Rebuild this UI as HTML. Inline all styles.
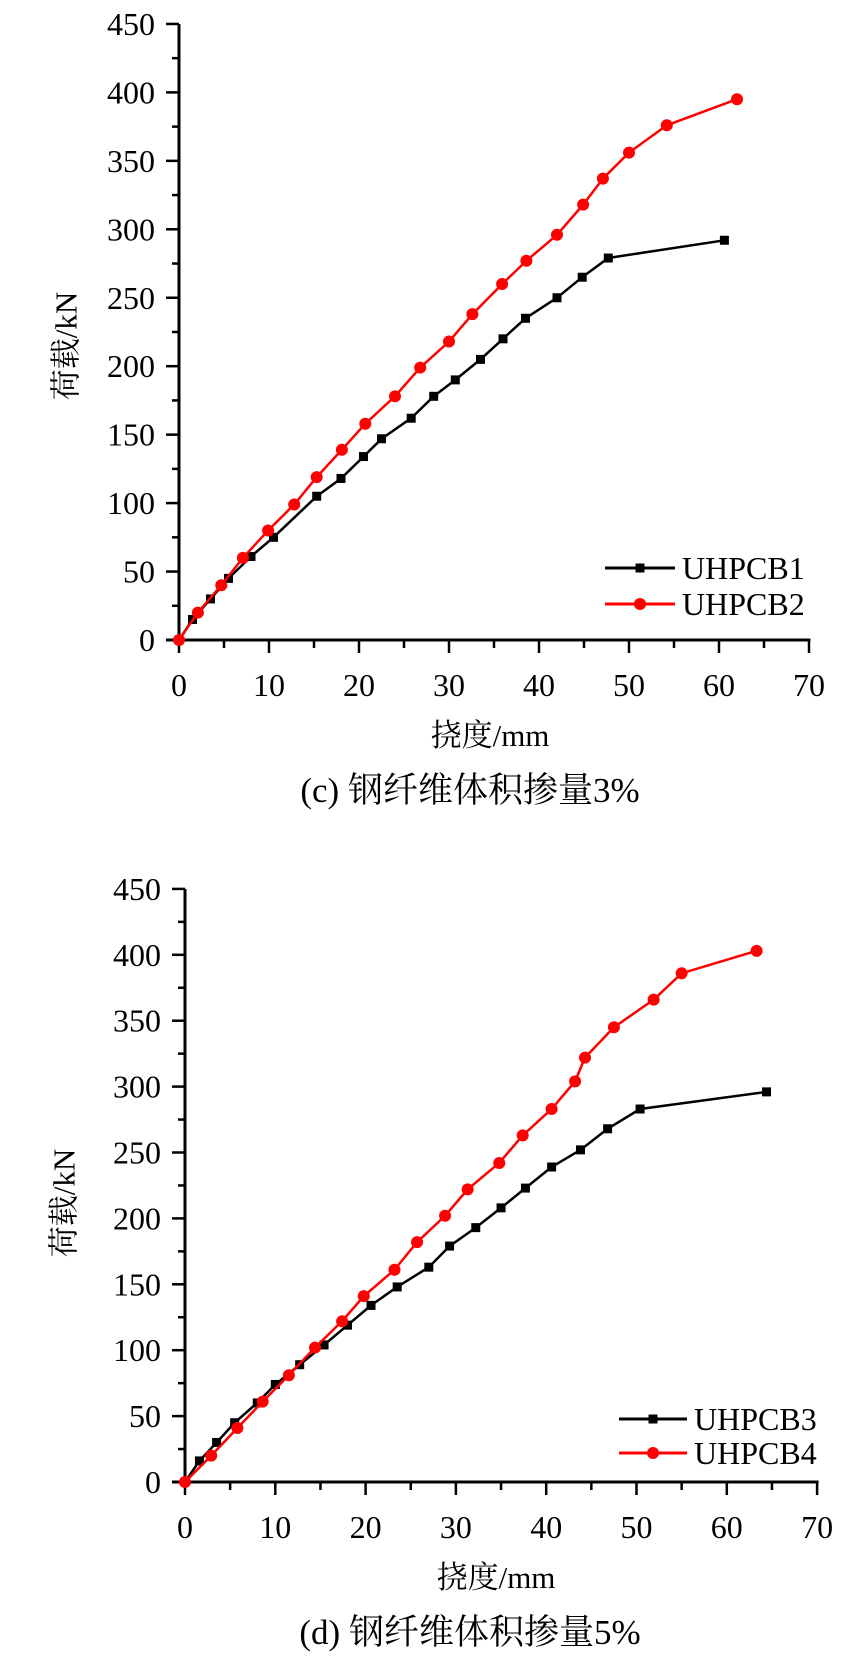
<!DOCTYPE html>
<html><head><meta charset="utf-8"><style>
html,body{margin:0;padding:0;background:#fff;}
svg{display:block;}
text{font-family:"Liberation Serif","Noto Serif CJK SC","Noto Sans CJK SC",serif;fill:#000;}
</style></head><body>
<svg id="s" width="854" height="1657" xmlns="http://www.w3.org/2000/svg"></svg>
<script>
const S=document.getElementById('s');let h='';
function chart(o){
 const X=v=>o.x0+v*o.sx, Y=v=>o.y0-v*o.sy;
 h+=`<line x1="${o.x0}" y1="${Y(450)}" x2="${o.x0}" y2="${o.y0}" stroke="#000" stroke-width="3"/>`;
 h+=`<line x1="${o.x0-13}" y1="${o.y0}" x2="${X(70)+1.5}" y2="${o.y0}" stroke="#000" stroke-width="3"/>`;
 for(let v=0;v<=450;v+=25){const maj=v%50==0;const y=Y(v);
  h+=`<line x1="${o.x0-(maj?13:7)}" y1="${y}" x2="${o.x0}" y2="${y}" stroke="#000" stroke-width="2.5"/>`;
  if(maj)h+=`<text x="${o.x0-24}" y="${y+11}" font-size="32" text-anchor="end">${v}</text>`;}
 for(let v=0;v<=70;v+=5){const maj=v%10==0;const x=X(v);
  h+=`<line x1="${x}" y1="${o.y0}" x2="${x}" y2="${o.y0+(maj?13:8)}" stroke="#000" stroke-width="2.5"/>`;
  if(maj)h+=`<text x="${x}" y="${o.y0+56}" font-size="32" text-anchor="middle">${v}</text>`;}
 h+=`<text x="${o.x0+311}" y="${o.y0+106}" font-size="31" text-anchor="middle">挠度/mm</text>`;
 h+=`<text x="470" y="${o.y0+162}" font-size="35" text-anchor="middle">${o.cap}</text>`;
 h+=`<text transform="translate(${o.ylx},${o.yly}) rotate(-90)" font-size="31" text-anchor="middle" dominant-baseline="central">荷载/kN</text>`;
 o.series.forEach(s=>{
  const pts=s.d.map(p=>`${X(p[0]).toFixed(1)},${Y(p[1]).toFixed(1)}`).join(' ');
  h+=`<polyline points="${pts}" fill="none" stroke="${s.c}" stroke-width="2.5"/>`;
  s.d.forEach(p=>{const x=X(p[0]),y=Y(p[1]);
   h+=s.sq?`<rect x="${x-4.5}" y="${y-4.5}" width="9" height="9" fill="${s.c}"/>`:`<circle cx="${x}" cy="${y}" r="6" fill="${s.c}"/>`;});
 });
 o.series.forEach((s,i)=>{const y=o.ly[i];
  h+=`<line x1="${o.lx1}" y1="${y}" x2="${o.lx2}" y2="${y}" stroke="${s.c}" stroke-width="3"/>`;
  const cx=(o.lx1+o.lx2)/2;
  h+=s.sq?`<rect x="${cx-4.5}" y="${y-4.5}" width="9" height="9" fill="${s.c}"/>`:`<circle cx="${cx}" cy="${y}" r="6" fill="${s.c}"/>`;
  h+=`<text x="${o.lx2+7}" y="${y+11}" font-size="32">${s.n}</text>`;});
}
chart({x0:179,y0:640,sx:9.0,sy:1.369,cap:'(c) 钢纤维体积掺量3%',ylx:66,yly:346,
 lx1:605,lx2:675,ly:[568,604],
 series:[
 {n:'UHPCB1',c:'#000',sq:1,d:[[0,0],[1.5,15],[3.5,30],[5.5,45],[8,61],[10.5,75],[15.3,105],[18,118],[20.5,134],[22.5,147],[25.8,162],[28.3,178],[30.7,190],[33.5,205],[36,220],[38.5,235],[42,250],[44.8,265],[47.7,279],[60.6,292]]},
 {n:'UHPCB2',c:'#f00',d:[[0,0],[2.1,20],[4.7,40],[7.1,60],[9.9,80],[12.8,99],[15.3,119],[18.1,139],[20.7,158],[24,178],[26.8,199],[30,218],[32.6,238],[35.9,260],[38.6,277],[42,296],[44.9,318],[47.1,337],[50,356],[54.2,376],[62,395]]}]});
chart({x0:185,y0:1482,sx:9.03,sy:1.318,cap:'(d) 钢纤维体积掺量5%',ylx:64,yly:1203,
 lx1:619,lx2:687,ly:[1419,1453],
 series:[
 {n:'UHPCB3',c:'#000',sq:1,d:[[0,0],[1.6,16],[3.5,30],[5.5,45],[8,60],[10,74],[12.7,89],[15.4,104],[18,119],[20.6,134],[23.5,148],[27,163],[29.3,179],[32.2,193],[35,208],[37.7,223],[40.6,239],[43.8,252],[46.8,268],[50.4,283],[64.4,296]]},
 {n:'UHPCB4',c:'#f00',d:[[0,0],[2.9,20],[5.8,41],[8.6,61],[11.5,81],[14.4,102],[17.4,122],[19.8,141],[23.2,161],[25.7,182],[28.8,202],[31.3,222],[34.8,242],[37.4,263],[40.6,283],[43.2,304],[44.3,322],[47.5,345],[51.9,366],[55,386],[63.3,403]]}]});
S.innerHTML=h;
</script>
</body></html>
